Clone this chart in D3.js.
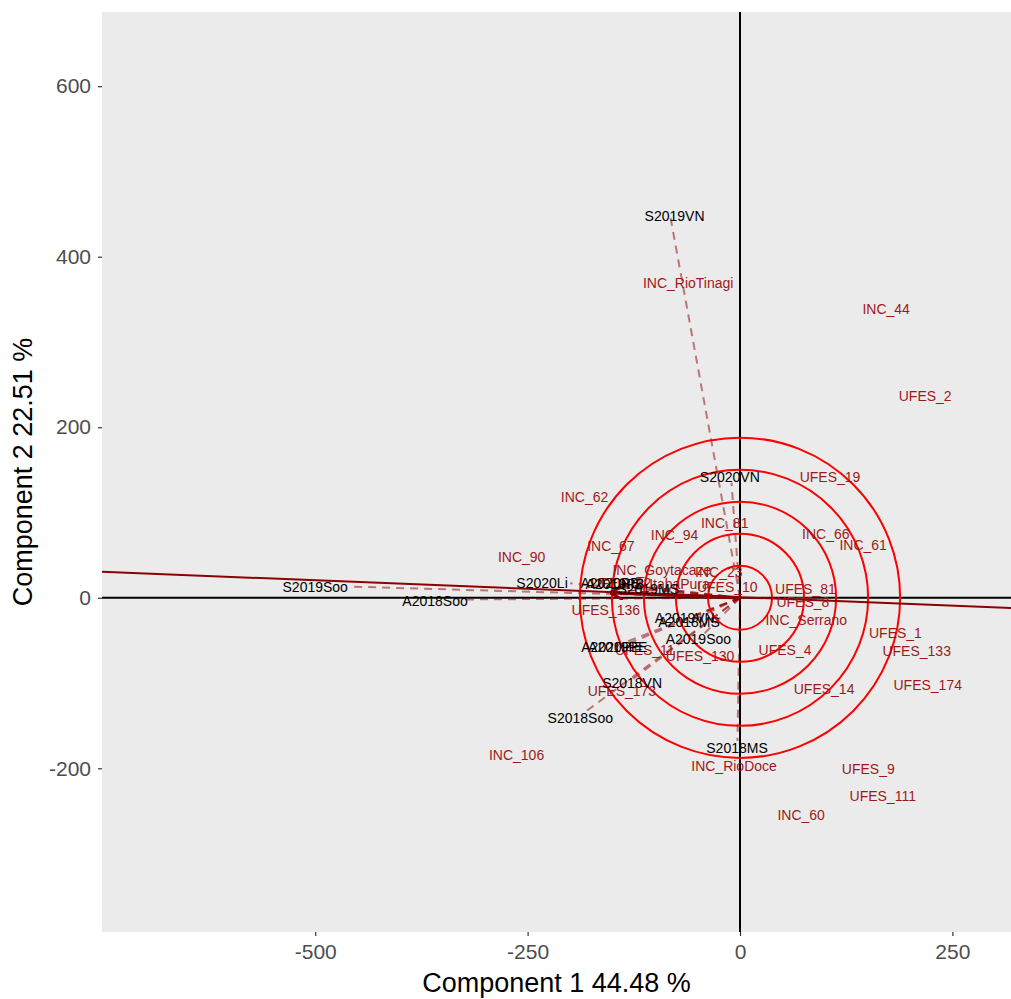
<!DOCTYPE html>
<html>
<head>
<meta charset="utf-8">
<script src="https://cdnjs.cloudflare.com/ajax/libs/d3/7.8.5/d3.min.js"></script>
<style>
  body { margin: 0; background: #fff; }
  text { font-family: "Liberation Sans", Arial, sans-serif; }
</style>
</head>
<body>
<script>
// observations (red labels)
var obsNames = ["INC_RioTinagi", "INC_44", "UFES_2", "UFES_19", "INC_62", "INC_81", "INC_94", "INC_67",
  "INC_90", "INC_66", "INC_61", "INC_Goytacaze", "INC_23", "UFES_32", "INC_ItabaPura", "UFES_10",
  "UFES_81", "UFES_8", "INC_Serrano", "UFES_136", "UFES_11", "UFES_130", "UFES_4", "UFES_1",
  "UFES_133", "UFES_174", "UFES_14", "UFES_173", "INC_106", "INC_RioDoce", "UFES_9", "UFES_111", "INC_60"];
var obsX = [-61, 172, 218, 106, -183, -18, -77, -152,
  -257, 101, 145, -92, -25, -140, -90, -15,
  77, 74, 78, -158, -112, -47, 53, 183,
  208, 221, 99, -139, -263, -7, 151, 168, 72];
var obsY = [369, 338, 236, 141, 118, 88, 73, 61,
  48, 75, 62, 33, 30, 17, 16, 13,
  10, -5, -26, -14, -61, -68, -61, -41,
  -63, -102, -107, -110, -184, -198, -201, -233, -255];

// variables (black labels) : arrow tips and label positions
var varNames = ["S2019VN", "S2020VN", "S2020Li", "A2020PB", "A2019PB", "S2019MS", "A2019VN", "A2018MS",
  "A2019Soo", "A2020PE", "A2019PE", "S2018VN", "S2018Soo", "S2018MS", "S2019Soo", "A2018Soo"];
var varX = [-82, -10, -200, -150, -145, -108, -64, -60,
  -49, -150, -142, -127, -185, -3, -455, -330];
var varY = [447, 135, 17, 17, 16, 10, -25, -28,
  -49, -58, -58, -96, -136, -168, 13, -2];
var labX = [-77, -12, -233, -153, -147, -108, -65, -60,
  -49, -152, -144, -127, -188, -3.5, -500, -359];
var labY = [448, 141, 17, 17, 16, 10, -24, -28,
  -49, -58, -58, -100, -141, -176, 13, -4];

// concentric circles and fitted line
var circleRadii = [37.7, 75.4, 113.1, 150.8, 188.5];
var fitX = [-751, 319];
var fitY = [30.5, -12];
var thickArrow = [[0, 0], [-150, 6]];

var xTicks = [-500, -250, 0, 250];
var yTicks = [-200, 0, 200, 400, 600];

var W = 1011, H = 999;
var pLeft = 102, pRight = 1011, pTop = 12, pBottom = 932;

var svg = d3.select("body").append("svg")
  .attr("width", W)
  .attr("height", H);

var x = d3.scaleLinear().domain([-751, 319]).range([pLeft, pRight]);
var y = d3.scaleLinear().domain([-392, 687]).range([pBottom, pTop]);

var defs = svg.append("defs");
defs.append("clipPath").attr("id", "clip")
  .append("rect").attr("x", pLeft).attr("y", pTop)
  .attr("width", pRight - pLeft).attr("height", pBottom - pTop);

defs.append("marker")
  .attr("id", "head")
  .attr("viewBox", "0 0 10 10")
  .attr("refX", 8).attr("refY", 5)
  .attr("markerWidth", 4).attr("markerHeight", 4)
  .attr("markerUnits", "strokeWidth")
  .attr("orient", "auto")
  .append("path").attr("d", "M0,0 L10,5 L0,10").attr("fill", "none")
  .attr("stroke", "#8B0000").attr("stroke-width", 2);

svg.append("rect")
  .attr("x", pLeft).attr("y", pTop)
  .attr("width", pRight - pLeft).attr("height", pBottom - pTop)
  .attr("fill", "#EBEBEB");

var g = svg.append("g").attr("clip-path", "url(#clip)");

// axes through origin
g.append("line").attr("x1", pLeft).attr("x2", pRight)
  .attr("y1", y(0)).attr("y2", y(0)).attr("stroke", "#000").attr("stroke-width", 2);
g.append("line").attr("y1", pTop).attr("y2", pBottom)
  .attr("x1", x(0)).attr("x2", x(0)).attr("stroke", "#000").attr("stroke-width", 2);

// dashed arrows
g.selectAll(".varline").data(varNames).enter().append("line")
  .attr("x1", x(0)).attr("y1", y(0))
  .attr("x2", function(d, i) { return x(varX[i]); })
  .attr("y2", function(d, i) { return y(varY[i]); })
  .attr("stroke", "#8B0000").attr("stroke-opacity", 0.5)
  .attr("stroke-width", 2).attr("stroke-dasharray", "8,6");

// circles
var pxPerUnit = x(1) - x(0);
g.selectAll(".circ").data(circleRadii).enter().append("circle")
  .attr("cx", x(0)).attr("cy", y(0))
  .attr("r", function(d) { return d * pxPerUnit; })
  .attr("fill", "none").attr("stroke", "#FF0000").attr("stroke-width", 2);

// fitted line
g.append("line")
  .attr("x1", x(fitX[0])).attr("y1", y(fitY[0]))
  .attr("x2", x(fitX[1])).attr("y2", y(fitY[1]))
  .attr("stroke", "#8B0000").attr("stroke-width", 2);

// thick arrow
g.append("line")
  .attr("x1", x(thickArrow[0][0])).attr("y1", y(thickArrow[0][1]))
  .attr("x2", x(thickArrow[1][0])).attr("y2", y(thickArrow[1][1]))
  .attr("stroke", "#8B0000").attr("stroke-width", 3.5)
  .attr("marker-end", "url(#head)");

// labels
g.selectAll(".obs").data(obsNames).enter().append("text")
  .attr("x", function(d, i) { return x(obsX[i]); })
  .attr("y", function(d, i) { return y(obsY[i]); })
  .attr("dy", "0.35em")
  .attr("text-anchor", "middle")
  .attr("font-size", 14)
  .attr("fill", "#9E1A1A")
  .text(function(d) { return d; });

g.selectAll(".var").data(varNames).enter().append("text")
  .attr("x", function(d, i) { return x(labX[i]); })
  .attr("y", function(d, i) { return y(labY[i]); })
  .attr("dy", "0.35em")
  .attr("text-anchor", "middle")
  .attr("font-size", 14)
  .attr("fill", "#000")
  .text(function(d) { return d; });

// axes
var fmt = function(d) { return String(d); };
var xAxis = svg.append("g").attr("transform", "translate(0," + pBottom + ")")
  .call(d3.axisBottom(x).tickValues(xTicks).tickFormat(fmt).tickSize(4).tickPadding(8));
var yAxis = svg.append("g").attr("transform", "translate(" + pLeft + ",0)")
  .call(d3.axisLeft(y).tickValues(yTicks).tickFormat(fmt).tickSize(4).tickPadding(7));
[xAxis, yAxis].forEach(function(a) {
  a.select(".domain").remove();
  a.selectAll(".tick line").attr("stroke", "#333").attr("stroke-width", 1.2);
  a.selectAll(".tick text").attr("fill", "#4D4D4D").attr("font-size", 21)
    .attr("font-family", "Liberation Sans, Arial, sans-serif");
});

svg.append("text")
  .attr("x", (pLeft + pRight) / 2).attr("y", 992)
  .attr("text-anchor", "middle").attr("font-size", 27).attr("fill", "#000")
  .text("Component 1 44.48 %");

svg.append("text")
  .attr("transform", "translate(32," + ((pTop + pBottom) / 2) + ") rotate(-90)")
  .attr("text-anchor", "middle").attr("font-size", 27).attr("fill", "#000")
  .text("Component 2 22.51 %");
</script>
</body>
</html>
